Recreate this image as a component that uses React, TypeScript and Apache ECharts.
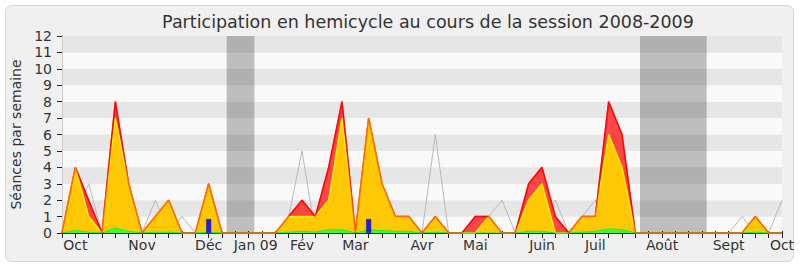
import React, { useEffect, useRef } from "react";
import * as echarts from "echarts";

// Weekly values, session 2008-2009 (week 0 = start of October 2008)
const presences = [0, 4, 2, 0, 8, 3, 0, 1, 2, 0, 0, 3, 0, 0, 0, 0, 0, 1, 2, 1, 4, 8, 0, 7, 3, 1, 1, 0, 1, 0, 0, 1, 1, 0, 0, 3, 4, 1, 0, 1, 1, 8, 6, 0, 0, 0, 0, 0, 0, 0, 0, 0, 1, 0, 0];
const participations = [0, 4, 1, 0, 7, 3, 0, 1, 2, 0, 0, 3, 0, 0, 0, 0, 0, 1, 1, 1, 2, 7, 0, 7, 3, 1, 1, 0, 1, 0, 0, 0, 1, 0, 0, 2, 3, 0, 0, 1, 1, 6, 4, 0, 0, 0, 0, 0, 0, 0, 0, 0, 1, 0, 0];
const interventions = [0, 0.15, 0.05, 0, 0.3, 0.1, 0, 0.05, 0.05, 0, 0, 0.05, 0, 0, 0, 0, 0, 0.05, 0.1, 0.05, 0.2, 0.2, 0, 0.2, 0.15, 0.1, 0.1, 0, 0.05, 0, 0, 0, 0, 0, 0, 0.1, 0.1, 0, 0, 0.05, 0.1, 0.25, 0.2, 0, 0, 0, 0, 0, 0, 0, 0, 0, 0.05, 0, 0];
const mediane = [0, 1, 3, 0, 1, 2, 0, 2, 0, 1, 0, 0, 0, 0, 0, 0, 0, 1, 5, 0, 1, 0, 0, 1, 0, 0, 0, 0, 6, 0, 0, 0, 1, 2, 0, 1, 1, 2, 0, 1, 2, 0, 1, 0, 0, 0, 0, 0, 0, 0, 0, 1, 0, 0, 2];
const questionWeeks = [11, 23];
const questionValues = [0.85, 0.85];
const vacations = [[12.35, 14.43], [43.35, 48.35]];
const monthWeeks = [1, 6, 11, 14, 18, 22, 27, 31, 36, 40, 45, 50, 54];
const monthLabels = ["Oct", "Nov", "Déc", "Jan 09", "Fév", "Mar", "Avr", "Mai", "Juin", "Juil", "Août", "Sept", "Oct"];

const FONT = "DejaVu Sans";
const TXT = "#333333";

export default function App() {
  const ref = useRef<HTMLDivElement>(null);
  useEffect(() => {
    if (!ref.current) return;
    const chart = echarts.init(ref.current, null, { renderer: "svg" });
    const pts = (arr: number[]) => arr.map((v, i) => [i, v]);
    chart.setOption({
      animation: false,
      textStyle: { fontFamily: FONT },
      graphic: [
        {
          type: "rect",
          z: -10,
          silent: true,
          shape: { x: 5.5, y: 5.5, width: 788, height: 256, r: 6 },
          style: { fill: "#f0f0f0", stroke: "#d6d6d6", lineWidth: 1 },
        },
      ],
      title: {
        text: "Participation en hemicycle au cours de la session 2008-2009",
        left: 423,
        textAlign: "center",
        top: 8,
        textStyle: { fontFamily: FONT, fontSize: 17.5, fontWeight: "normal", color: TXT },
      },
      grid: { left: 62, right: 18, top: 36, bottom: 34 },
      xAxis: [
        {
          type: "value",
          min: 0,
          max: 54,
          interval: 1,
          axisLine: { show: true, lineStyle: { color: "#222", width: 1 } },
          axisTick: { show: true, length: 5, lineStyle: { color: "#222" } },
          splitLine: { show: false },
          axisLabel: {
            margin: 5,
            color: TXT,
            fontSize: 14,
            fontFamily: FONT,
            showMinLabel: true,
            showMaxLabel: true,
            formatter: (v: number) => {
              const i = monthWeeks.indexOf(Math.round(v));
              if (i < 0) return "";
              if (monthLabels[i] === "Jan 09") return "{j|Jan 09}";
              return monthLabels[i];
            },
            rich: {
              j: { fontSize: 14, fontFamily: FONT, color: TXT, padding: [0, 0, 0, 14] },
            },
          },
        },
        {
          type: "value",
          position: "top",
          min: 0,
          max: 54,
          interval: 1,
          axisLine: { show: false },
          axisTick: { show: true, length: 2, lineStyle: { color: "#222" } },
          axisLabel: { show: false },
          splitLine: { show: false },
        },
      ],
      yAxis: [
        {
          type: "value",
          min: 0,
          max: 12,
          interval: 1,
          name: "Séances par semaine",
          nameLocation: "middle",
          nameGap: 37,
          nameTextStyle: { fontFamily: FONT, fontSize: 14, color: TXT },
          axisLine: { show: true, lineStyle: { color: "#222", width: 1 } },
          axisTick: { show: true, length: 5, lineStyle: { color: "#222" } },
          axisLabel: { margin: 10, color: TXT, fontSize: 14, fontFamily: FONT },
          splitLine: { show: false },
          splitArea: { show: true, areaStyle: { color: ["#f9f9f9", "#e6e6e6"] } },
        },
        {
          type: "value",
          position: "right",
          min: 0,
          max: 12,
          interval: 1,
          axisLine: { show: true, lineStyle: { color: "#cccccc", width: 1 } },
          axisTick: { show: false },
          axisLabel: { show: false },
          splitLine: { show: false },
        },
      ],
      series: [
        {
          name: "médiane",
          type: "line",
          z: 2,
          symbol: "none",
          data: pts(mediane),
          lineStyle: { color: "#b8b8b8", width: 1 },
          markArea: {
            silent: true,
            itemStyle: { color: "rgba(0,0,0,0.235)" },
            data: vacations.map(([a, b]) => [{ xAxis: a }, { xAxis: b }]),
          },
        },
        {
          name: "présences",
          type: "line",
          z: 3,
          symbol: "none",
          data: pts(presences),
          lineStyle: { color: "#ff1010", width: 1.5 },
          areaStyle: { color: "#ff2828", opacity: 0.85 },
        },
        {
          name: "participations",
          type: "line",
          z: 4,
          symbol: "none",
          data: pts(participations),
          lineStyle: { color: "#ffee00", width: 1.5 },
          areaStyle: { color: "#ffd200", opacity: 0.93 },
        },
        {
          name: "interventions",
          type: "line",
          z: 5,
          symbol: "none",
          data: pts(interventions),
          lineStyle: { color: "#22ee22", width: 1 },
          areaStyle: { color: "#33ff33", opacity: 0.95 },
        },
        {
          name: "questions",
          type: "bar",
          z: 6,
          barWidth: 5,
          data: questionWeeks.map((w, i) => [w, questionValues[i]]),
          itemStyle: { color: "#2020dd", borderColor: "#1010a0", borderWidth: 0.5 },
        },
        {
          name: "présences-ligne",
          type: "line",
          z: 7,
          symbol: "none",
          data: pts(presences),
          lineStyle: { color: "rgba(255,0,0,0.55)", width: 1.5 },
        },
      ],
    });
    return () => chart.dispose();
  }, []);
  return (
    <div style={{ position: "fixed", left: 0, top: 0, width: 800, height: 267, background: "#ffffff" }}>
      <div ref={ref} style={{ width: 800, height: 267 }} />
    </div>
  );
}
